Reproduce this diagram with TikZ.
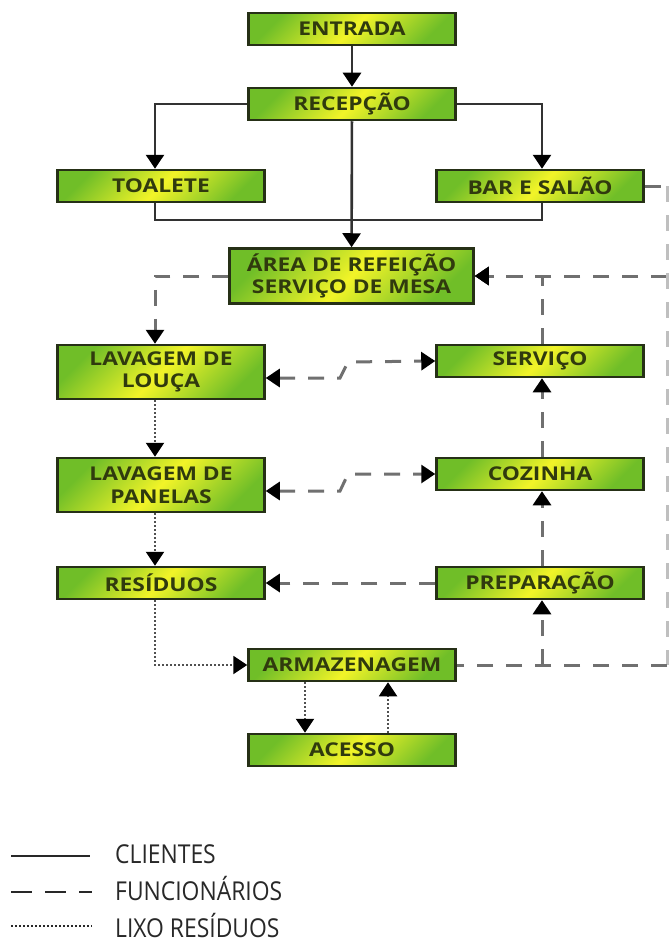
\documentclass[tikz,border=0pt]{standalone}
\usepackage{fontspec}
\setmainfont{Open Sans}
\newfontfamily\boxfont[FakeStretch=1.2]{Open Sans}
\newfontfamily\legfont[FakeStretch=0.88]{Open Sans}
\usetikzlibrary{arrows.meta,calc}
\definecolor{boxgreen}{RGB}{112,190,40}
\definecolor{boxyellow}{RGB}{242,244,40}
\definecolor{boxborder}{RGB}{38,48,22}
\definecolor{boxtext}{RGB}{48,58,14}
\definecolor{solidc}{RGB}{50,50,50}
\definecolor{dashc}{RGB}{112,112,112}
\definecolor{dotc}{RGB}{80,80,80}
\definecolor{legc}{RGB}{40,40,40}
\tikzset{
  room/.style={draw=boxborder, line width=2.5pt, top color=boxgreen, bottom color=boxgreen,
    middle color=boxyellow, shading angle=45, minimum width=207pt, minimum height=32pt,
    inner sep=0pt, align=center, text=boxtext,
    font=\boxfont\bfseries\fontsize{19}{22.5}\selectfont},
  tip/.style={-{Triangle[width=18pt,length=14pt,color=black]}},
  tips/.style={{Triangle[width=18pt,length=14pt,color=black]}-{Triangle[width=18pt,length=14pt,color=black]}},
  cli/.style={draw=solidc, line width=2.6pt},
  fun/.style={draw=dashc, line width=3pt, dash pattern=on 16pt off 13pt},
  lix/.style={draw=dotc, line width=2pt, dash pattern=on 1.7pt off 2.3pt},
  legtext/.style={anchor=base west, text=legc, inner sep=0pt, font=\legfont\fontsize{26}{26}\selectfont},
}
\begin{document}
\begin{tikzpicture}[x=1pt,y=-1pt]
\useasboundingbox (0,0) rectangle (669,942);
\fill[white] (0,0) rectangle (669,942);

% helper coordinates
\coordinate (xL) at (155,0);
\coordinate (xR) at (542,0);
\coordinate (xE) at (667,0);
\coordinate (xD) at (305,0);
\coordinate (xU) at (388,0);
\coordinate (yA) at (0,276);
\coordinate (yT) at (0,220);
\coordinate (k1a) at (340,378);
\coordinate (k1b) at (348,362);
\coordinate (k2a) at (340,491);
\coordinate (k2b) at (348,474);

% boxes
\node[room] (entrada) at (352,29) {ENTRADA};
\node[room] (recepcao) at (352,104) {RECEPÇÃO};
\node[room] (toalete) at (161,186) {TOALETE};
\node[room] (bar) at (540,186) {BAR E SALÃO};
\node[room, minimum width=244pt, minimum height=55pt] (area) at (351.5,276) {ÁREA DE REFEIÇÃO\\SERVIÇO DE MESA};
\node[room, minimum height=54pt] (louca) at (161,372) {LAVAGEM DE\\LOUÇA};
\node[room] (servico) at (540,361) {SERVIÇO};
\node[room, minimum height=54pt] (panelas) at (161,485) {LAVAGEM DE\\PANELAS};
\node[room] (cozinha) at (540,474) {COZINHA};
\node[room] (residuos) at (161,583) {RESÍDUOS};
\node[room] (preparacao) at (540,583) {PREPARAÇÃO};
\node[room] (armazenagem) at (352,665) {ARMAZENAGEM};
\node[room] (acesso) at (352,750) {ACESSO};

% clients (solid)
\draw[cli,tip] (entrada) -- (recepcao);
\draw[cli,tip] (recepcao.west) -| (toalete.north -| xL);
\draw[cli,tip] (recepcao.east) -| (bar.north -| xR);
\draw[cli,tip] (recepcao) -- (area);
\draw[cli] (toalete.south -| xL) -- (xL |- yT) -- (xR |- yT) -- (bar.south -| xR);

% staff (dashed)
\draw[fun,tip] (area.west) -| (louca.north -| xL);
\draw[fun,tip] (servico.north -| xR) |- (area.east);
\draw[fun,tip] (xE |- yA) -- (area.east);
\draw[fun] (bar.east) -- (xE |- bar.east);
\draw[fun, draw=dashc!45] (xE |- bar.east) -- (xE |- armazenagem.east);
\draw[fun] (xE |- armazenagem.east) -- (armazenagem.east);
\draw[fun,tip] (xR |- armazenagem.east) -- (preparacao.south -| xR);
\draw[fun,tip] (preparacao.north -| xR) -- (cozinha.south -| xR);
\draw[fun,tip] (cozinha.north -| xR) -- (servico.south -| xR);
\draw[fun,tip] (preparacao.west) -- (residuos.east);
\draw[fun,tips] (louca.east |- k1a) -- (k1a) -- (k1b) -- (servico.west);
\draw[fun,tips] (panelas.east |- k2a) -- (k2a) -- (k2b) -- (cozinha.west);

% waste (dotted)
\draw[lix,tip] (louca.south -| xL) -- (panelas.north -| xL);
\draw[lix,tip] (panelas.south -| xL) -- (residuos.north -| xL);
\draw[lix,tip] (residuos.south -| xL) |- (armazenagem.west);
\draw[lix,tip] (armazenagem.south -| xD) -- (acesso.north -| xD);
\draw[lix,tip] (acesso.north -| xU) -- (armazenagem.south -| xU);

% legend
\coordinate (l1a) at (11,856); \coordinate (l1b) at (90,856);
\coordinate (l2a) at (11,892); \coordinate (l2b) at (92,892);
\coordinate (l3a) at (11,926); \coordinate (l3b) at (92,926);
\draw[draw=legc, line width=2pt] (l1a) -- (l1b);
\draw[draw=legc, line width=2pt, dash pattern=on 21pt off 13pt] (l2a) -- (l2b);
\draw[draw=legc, line width=1.4pt, dash pattern=on 1.5pt off 2.5pt] (l3a) -- (l3b);
\node[legtext] (legC) at (115,863) {CLIENTES};
\node[legtext] (legF) at (115,900) {FUNCIONÁRIOS};
\node[legtext] (legL) at (115,937) {LIXO RESÍDUOS};
\end{tikzpicture}
\end{document}
